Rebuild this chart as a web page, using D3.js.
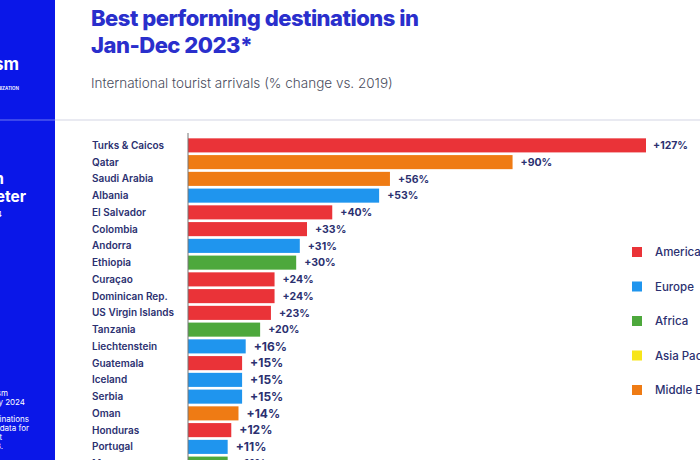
<!DOCTYPE html>
<html>
<head>
<meta charset="utf-8">
<script src="https://cdn.jsdelivr.net/npm/d3@7"></script>
<style>
  html, body { margin: 0; padding: 0; background: #fff; }
  svg { display: block; font-family: Inter, "Noto Sans", sans-serif; }
</style>
</head>
<body>
<script>
var
  countries = ['Turks & Caicos', 'Qatar', 'Saudi Arabia', 'Albania', 'El Salvador', 'Colombia',
    'Andorra', 'Ethiopia', 'Curaçao', 'Dominican Rep.', 'US Virgin Islands', 'Tanzania',
    'Liechtenstein', 'Guatemala', 'Iceland', 'Serbia', 'Oman', 'Honduras', 'Portugal', 'Morocco'],
  changes = [127, 90, 56, 53, 40, 33, 31, 30, 24, 24, 23, 20, 16, 15, 15, 15, 14, 12, 11, 11],
  regionOf = ['Americas', 'Middle East', 'Middle East', 'Europe', 'Americas', 'Americas',
    'Europe', 'Africa', 'Americas', 'Americas', 'Americas', 'Africa',
    'Europe', 'Americas', 'Europe', 'Europe', 'Middle East', 'Americas', 'Europe', 'Africa'],
  regions = ['Americas', 'Europe', 'Africa', 'Asia Pacific', 'Middle East'],
  regionColors = ['#ea3338', '#1f95ee', '#4da83c', '#f7e51a', '#ef7b14'],

  config = {
    w : 700,
    h : 460
  },

  drawChart = function drawChart() {
    var
      svg = d3.select('body').append('svg')
        .attr('width', config.w).attr('height', config.h),
      colour = d3.scaleOrdinal().domain(regions).range(regionColors),
      x = d3.scaleLinear().domain([0, 127]).range([188, 646]),
      y = d3.scaleBand().domain(countries).range([137, 472]).paddingInner(0.16).paddingOuter(0.08),
      data = countries.map(function (c, i) {
        return { name: c, v: changes[i], region: regionOf[i] };
      });

    // left brand panel
    svg.append('rect').attr('x', 0).attr('y', 0).attr('width', 55).attr('height', config.h)
      .attr('fill', '#0a17e8');
    svg.append('line').attr('x1', 0).attr('x2', 55).attr('y1', 120).attr('y2', 120)
      .attr('stroke', '#6f78f0').attr('stroke-width', 1);

    var panel = svg.append('g').attr('fill', '#fff').attr('text-anchor', 'end');
    panel.append('text').attr('x', 19).attr('y', 70).attr('font-size', 17).attr('font-weight', 700).text('UN Tourism');
    panel.append('text').attr('x', 19).attr('y', 90).attr('font-size', 4.5).attr('font-weight', 600).text('WORLD TOURISM ORGANIZATION');
    panel.append('text').attr('x', 4).attr('y', 184).attr('font-size', 15.5).attr('font-weight', 700).text('Edition');
    panel.append('text').attr('x', 26).attr('y', 202).attr('font-size', 15.5).attr('font-weight', 700).text('Barometer');
    panel.append('text').attr('x', 2).attr('y', 217).attr('font-size', 8).text('2024');
    [['Source: UN Tourism', 8, 396], ['January 2024', 25, 405], ['*Best performing destinations', 29, 422],
      ['with available data for', 29, 431], ['at least', 2, 440], ['2023.', 3, 449]].forEach(function (t) {
      panel.append('text').attr('x', t[1]).attr('y', t[2]).attr('font-size', 8).text(t[0]);
    });

    // separator
    svg.append('line').attr('x1', 55).attr('x2', config.w).attr('y1', 120).attr('y2', 120)
      .attr('stroke', '#d3d5e4').attr('stroke-width', 1);

    // titles
    svg.append('text').attr('x', 91).attr('y', 26).attr('font-size', 22).attr('font-weight', 800)
      .attr('fill', '#2a2fcc').attr('letter-spacing', -0.5).text('Best performing destinations in');
    svg.append('text').attr('x', 91).attr('y', 53).attr('font-size', 22).attr('font-weight', 800)
      .attr('fill', '#2a2fcc').attr('letter-spacing', -0.5).text('Jan-Dec 2023*');
    svg.append('text').attr('x', 91).attr('y', 88).attr('font-size', 13.5).attr('font-weight', 300)
      .attr('fill', '#4a4d5e').text('International tourist arrivals (% change vs. 2019)');

    // bars
    svg.append('g').selectAll('rect').data(data).enter().append('rect')
      .attr('x', x(0))
      .attr('y', function (d) { return y(d.name); })
      .attr('width', function (d) { return x(d.v) - x(0); })
      .attr('height', y.bandwidth())
      .attr('fill', function (d) { return colour(d.region); });

    // axis line
    svg.append('line').attr('x1', x(0)).attr('x2', x(0)).attr('y1', 133).attr('y2', config.h)
      .attr('stroke', '#777').attr('stroke-width', 1);

    // country labels
    svg.append('g').selectAll('text').data(data).enter().append('text')
      .attr('x', 92)
      .attr('y', function (d) { return y(d.name) + y.bandwidth() / 2; })
      .attr('dy', '0.35em')
      .attr('font-size', 10).attr('font-weight', 600).attr('fill', '#2b3070')
      .text(function (d) { return d.name; });

    // value labels
    svg.append('g').selectAll('text').data(data).enter().append('text')
      .attr('x', function (d) { return x(d.v) + (d.v > 100 ? 7 : 8); })
      .attr('y', function (d) { return y(d.name) + y.bandwidth() / 2; })
      .attr('dy', '0.35em')
      .attr('font-size', function (d) { return d.v < 20 ? 12 : 10.5; })
      .attr('font-weight', 700).attr('fill', '#2b3070')
      .text(function (d) { return '+' + d.v + '%'; });

    // legend
    var legend = svg.append('g').selectAll('g').data(regions).enter().append('g')
      .attr('transform', function (d, i) { return 'translate(632,' + (247 + i * 34.5) + ')'; });
    legend.append('rect').attr('width', 10).attr('height', 10)
      .attr('fill', function (d) { return colour(d); });
    legend.append('text').attr('x', 23).attr('y', 5).attr('dy', '0.35em')
      .attr('font-size', 11.5).attr('font-weight', 500).attr('fill', '#2b3070')
      .text(function (d) { return d; });
  };

drawChart();
</script>
</body>
</html>
